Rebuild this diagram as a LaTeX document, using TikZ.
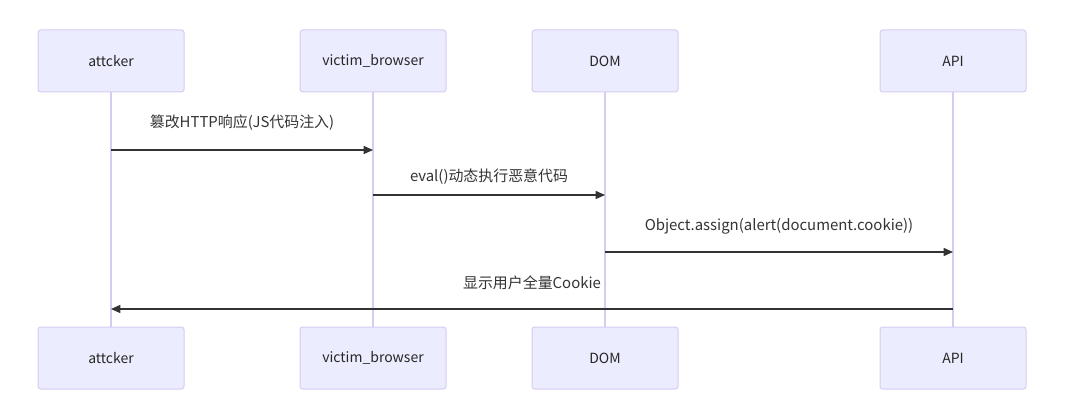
\documentclass[tikz,border=0pt]{standalone}
\usepackage{fontspec}
\setmainfont{Noto Sans CJK SC}
\usetikzlibrary{arrows.meta}
\definecolor{actfill}{HTML}{ECECFF}
\definecolor{actline}{HTML}{D6CCF2}
\definecolor{msg}{HTML}{333333}
\begin{document}
\begin{tikzpicture}[x=0.75pt,y=-0.75pt,
  actor/.style={draw=actline,fill=actfill,line width=0.75pt,rounded corners=2pt,minimum width=109.5pt,minimum height=46.5pt,font=\fontsize{10.5}{12}\selectfont,text=black!85},
  life/.style={draw=actline,line width=0.9pt},
  msgl/.style={draw=msg,line width=1.1pt,-{Triangle[length=7pt,width=6pt]}},
  lbl/.style={font=\fontsize{11.2}{13}\selectfont,text=black!80}]
\useasboundingbox (0,0) rectangle (1080,409);
\foreach \n/\x/\t in {a/111/attcker,v/373/victim\_browser,d/605/DOM,p/953/API}{
  \node[actor] (\n t) at (\x,61) {\t};
  \node[actor] (\n b) at (\x,358) {\t};
  \draw[life] (\n t.south) -- (\n b.north);
  \coordinate (\n1) at (\x,150); \coordinate (\n2) at (\x,195);
  \coordinate (\n3) at (\x,252); \coordinate (\n4) at (\x,309);
}
\draw[msgl] (a1) -- (v1);
\node[lbl] (l1) at (242,123) {篡改HTTP响应(JS代码注入)};
\draw[msgl] (v2) -- (d2);
\node[lbl] (l2) at (489,177) {eval()动态执行恶意代码};
\draw[msgl] (d3) -- (p3);
\node[lbl] (l3) at (779,226) {Object.assign(alert(document.cookie))};
\draw[msgl] (p4) -- (a4);
\node[lbl] (l4) at (532,283) {显示用户全量Cookie};
\end{tikzpicture}
\end{document}
